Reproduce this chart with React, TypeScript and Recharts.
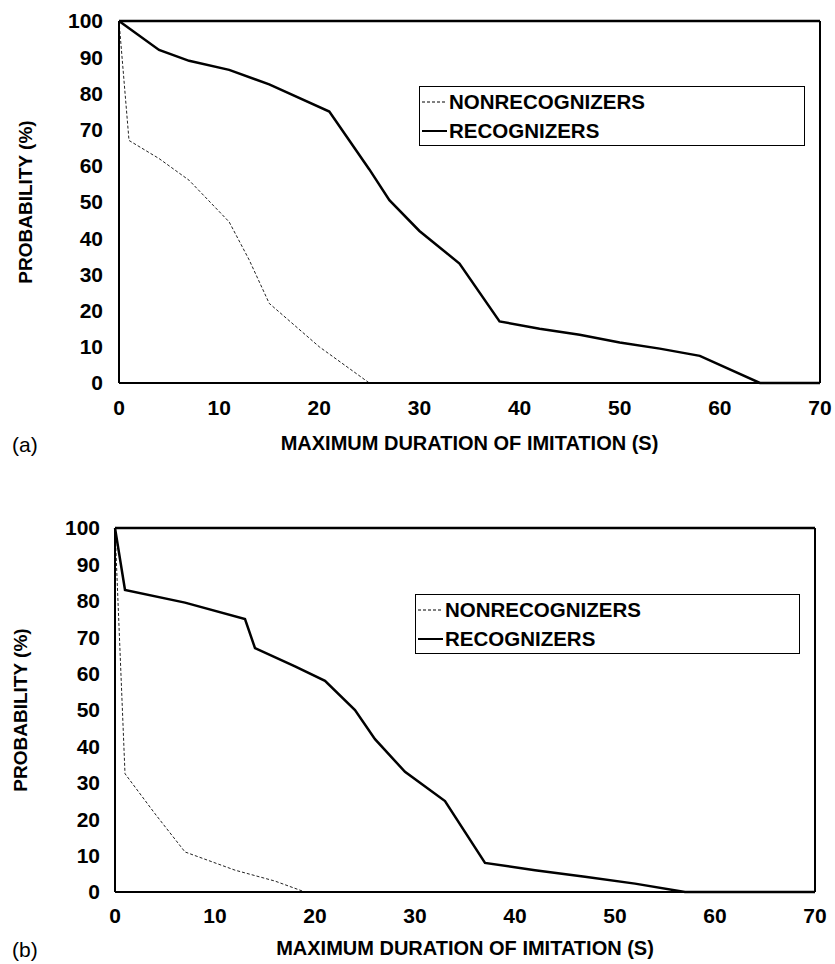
import React from 'react'
import { LineChart, Line, XAxis, YAxis, ReferenceLine, Legend, Label } from 'recharts'

// valeurs (durée en s, probabilité en %)
const xTicks = [0, 10, 20, 30, 40, 50, 60, 70]
const yTicks = [0, 10, 20, 30, 40, 50, 60, 70, 80, 90, 100]

// panneau (a)
const recAx = [0, 4, 7, 11, 15, 21, 23, 25, 27, 30, 34, 38, 42, 46, 50, 54, 58, 64, 70]
const recAy = [100, 92, 89, 86.5, 82.5, 75, 67, 59, 50.5, 42, 33, 17, 15, 13.3, 11.2, 9.5, 7.5, 0, 0]
const nonAx = [0, 1, 4, 7, 11, 13, 15, 20, 25, 70]
const nonAy = [100, 67, 62, 56, 44.5, 34, 22, 10, 0, 0]

// panneau (b)
const recBx = [0, 1, 7, 13, 14, 18, 21, 24, 26, 29, 33, 37, 42, 47, 52, 57, 70]
const recBy = [100, 83, 79.5, 75, 67, 62, 58, 50, 42, 33, 25, 8, 6, 4.2, 2.3, 0, 0]
const nonBx = [0, 1, 4, 7, 12, 16, 19, 70]
const nonBy = [100, 32.5, 21.5, 11, 6, 3, 0, 0]

const legendLabels = ['NONRECOGNIZERS', 'RECOGNIZERS']
const xTitle = 'MAXIMUM DURATION OF IMITATION (S)'
const yTitle = 'PROBABILITY (%)'

const FONT = '"Liberation Sans", Arial, Helvetica, sans-serif'

const toPoints = (xs: number[], ys: number[]) => xs.map((x, i) => ({ x, y: ys[i] }))

interface PanelProps {
  tag: string
  rec: { x: number; y: number }[]
  non: { x: number; y: number }[]
  top: number
  margin: { top: number; right: number; bottom: number; left: number }
  yAxisWidth: number
  xTickMargin: number
  yTickMargin: number
  titleDy: number
  yTitleX: number
  legendBox: { left: number; top: number; width: number; height: number }
}

function LegendBox(): React.JSX.Element {
  return (
    <div
      style={{
        border: '1.5px solid #000',
        boxSizing: 'border-box',
        width: '100%',
        height: '100%',
        fontFamily: FONT,
        fontSize: 20.5,
        fontWeight: 'bold',
        color: '#000'
      }}
    >
      {legendLabels.map((lab, i) => (
        <div key={lab} style={{ display: 'flex', alignItems: 'center', height: 29, lineHeight: '29px' }}>
          <svg width={28} height={6} style={{ marginLeft: 1 }}>
            <line
              x1={1}
              y1={3}
              x2={26}
              y2={3}
              stroke="#000"
              strokeWidth={i === 0 ? 1 : 2}
              strokeDasharray={i === 0 ? '3 2' : undefined}
            />
          </svg>
          <span>{lab}</span>
        </div>
      ))}
    </div>
  )
}

function Panel({
  tag,
  rec,
  non,
  top,
  margin,
  yAxisWidth,
  xTickMargin,
  yTickMargin,
  titleDy,
  yTitleX,
  legendBox
}: PanelProps): React.JSX.Element {
  const tickStyle = { fill: '#000', fontSize: 21, fontWeight: 'bold', fontFamily: FONT }

  // eslint-disable-next-line @typescript-eslint/no-explicit-any
  const renderXTitle = (props: any) => {
    const vb = props.viewBox
    return (
      <g>
        <text
          x={vb.x + vb.width / 2}
          y={vb.y + titleDy}
          textAnchor="middle"
          dominantBaseline="central"
          fontFamily={FONT}
          fontSize={20}
          fontWeight="bold"
          fill="#000"
        >
          {xTitle}
        </text>
        <text
          x={12}
          y={vb.y + titleDy + 1}
          dominantBaseline="central"
          fontFamily={FONT}
          fontSize={21}
          fill="#000"
        >
          {tag}
        </text>
      </g>
    )
  }

  // eslint-disable-next-line @typescript-eslint/no-explicit-any
  const renderYTitle = (props: any) => {
    const vb = props.viewBox
    const cy = vb.y + vb.height / 2
    return (
      <text
        x={yTitleX}
        y={cy}
        transform={`rotate(-90 ${yTitleX} ${cy})`}
        textAnchor="middle"
        dominantBaseline="central"
        fontFamily={FONT}
        fontSize={19}
        fontWeight="bold"
        fill="#000"
      >
        {yTitle}
      </text>
    )
  }

  return (
    <div style={{ position: 'absolute', left: 0, top, width: 835, height: 482 }}>
      <LineChart width={835} height={482} margin={margin}>
        <XAxis
          dataKey="x"
          type="number"
          domain={[0, 70]}
          ticks={xTicks}
          interval={0}
          height={30}
          tickSize={0}
          tickMargin={xTickMargin}
          tick={tickStyle}
          axisLine={{ stroke: '#000', strokeWidth: 2 }}
        >
          <Label content={renderXTitle} />
        </XAxis>
        <YAxis
          type="number"
          domain={[0, 100]}
          ticks={yTicks}
          interval={0}
          width={yAxisWidth}
          tickSize={0}
          tickMargin={yTickMargin}
          tick={tickStyle}
          axisLine={{ stroke: '#000', strokeWidth: 2 }}
        >
          <Label content={renderYTitle} />
        </YAxis>
        <ReferenceLine y={100} stroke="#000" strokeWidth={2.5} />
        <ReferenceLine x={70} stroke="#000" strokeWidth={2} />
        <Legend
          layout="horizontal"
          verticalAlign="middle"
          align="center"
          content={() => <LegendBox />}
          wrapperStyle={{ ...legendBox, position: 'absolute' }}
        />
        {/* courbe non-reconnaisseurs (pointillés fins) */}
        <Line
          data={non}
          dataKey="y"
          type="linear"
          stroke="#222"
          strokeWidth={1}
          strokeDasharray="3 2"
          dot={false}
          activeDot={false}
          isAnimationActive={false}
        />
        {/* courbe reconnaisseurs (trait plein) */}
        <Line
          data={rec}
          dataKey="y"
          type="linear"
          stroke="#000"
          strokeWidth={2.5}
          dot={false}
          activeDot={false}
          isAnimationActive={false}
        />
      </LineChart>
    </div>
  )
}

export default function App(): React.JSX.Element {
  return (
    <div
      style={{
        position: 'absolute',
        left: 0,
        top: 0,
        width: 835,
        height: 964,
        overflow: 'hidden',
        background: '#fff'
      }}
    >
      <Panel
        tag="(a)"
        rec={toPoints(recAx, recAy)}
        non={toPoints(nonAx, nonAy)}
        top={0}
        margin={{ top: 21, right: 15, bottom: 69, left: 0 }}
        yAxisWidth={119}
        xTickMargin={17}
        yTickMargin={16}
        titleDy={60}
        yTitleX={25}
        legendBox={{ left: 419, top: 86, width: 386, height: 60 }}
      />
      <Panel
        tag="(b)"
        rec={toPoints(recBx, recBy)}
        non={toPoints(nonBx, nonBy)}
        top={482}
        margin={{ top: 46, right: 20, bottom: 42, left: 0 }}
        yAxisWidth={115}
        xTickMargin={16}
        yTickMargin={15}
        titleDy={56}
        yTitleX={20}
        legendBox={{ left: 415, top: 112, width: 385, height: 60 }}
      />
    </div>
  )
}
